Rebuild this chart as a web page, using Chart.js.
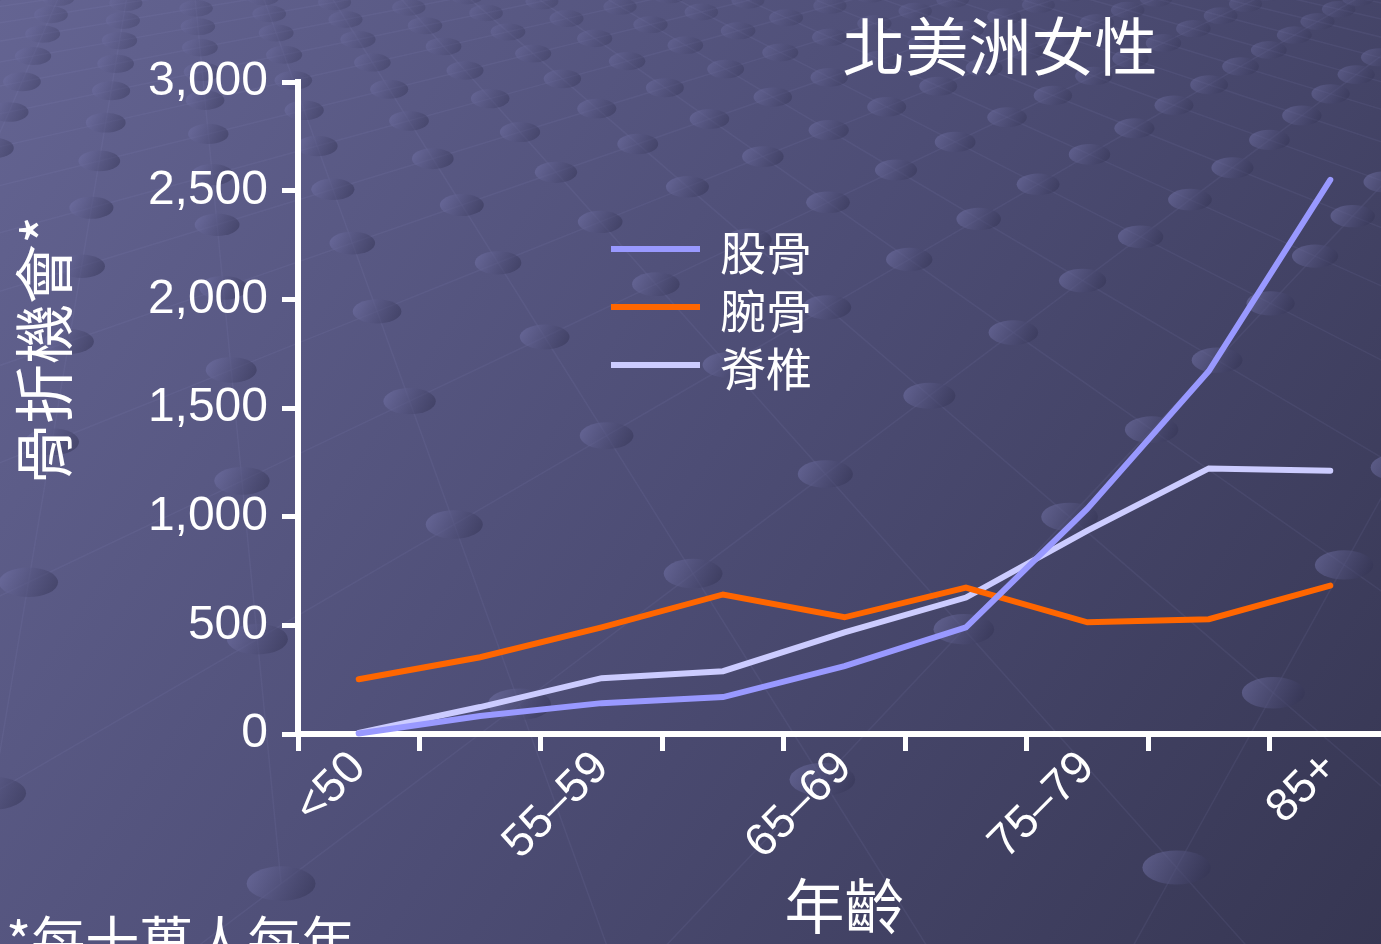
<!DOCTYPE html>
<html>
<head>
<meta charset="utf-8">
<title>北美洲女性 骨折機會</title>
<script src="https://cdn.jsdelivr.net/npm/chart.js@4.4.1/dist/chart.umd.min.js"></script>
<style>
  html, body { margin: 0; padding: 0; overflow: hidden; background: #4a4a72; }
  #wrap { width: 1381px; height: 944px; overflow: hidden; }
  canvas { display: block; }
</style>
</head>
<body>
<div id="wrap"><canvas id="c" width="1391" height="944"></canvas></div>
<script>
// Age groups (every second label is printed on the axis)
const ageGroups = ['<50', '50–54', '55–59', '60–64', '65–69', '70–74', '75–79', '80–84', '85+'];

// Fracture incidence per 100,000 women per year
const hipValues   = [2, 83, 142, 170, 312, 491, 1037, 1670, 2550];
const wristValues = [252, 353, 491, 642, 537, 674, 514, 528, 683];
const spineValues = [5, 124, 257, 289, 468, 628, 936, 1222, 1211];

const seriesNames = ['股骨', '腕骨', '脊椎'];
const yTicks = [0, 500, 1000, 1500, 2000, 2500, 3000];

const chartTitle = '北美洲女性';
const yTitle = '骨折機會*';
const xTitle = '年齡';
const footnote = '*每十萬人每年';

const CJK = '"Noto Sans CJK TC", "Noto Sans CJK SC", sans-serif';
const LATIN = '"Liberation Sans", Arial, sans-serif';

// Slide background: diagonal gradient with a faint perspective lattice of discs
const slideBackground = {
  id: 'slideBackground',
  beforeDraw(chart) {
    const ctx = chart.ctx;
    const W = chart.width, H = chart.height;
    ctx.save();
    const g = ctx.createLinearGradient(0, 0, W, H);
    g.addColorStop(0, '#646492');
    g.addColorStop(0.5, '#4d4d75');
    g.addColorStop(1, '#363652');
    ctx.fillStyle = g;
    ctx.fillRect(0, 0, W, H);

    const ang = 0.6, d = 0.36;
    const ca = Math.cos(ang), sa = Math.sin(ang);
    const proj = (i, j) => {
      const gx = i * d * ca - j * d * sa + 0.1;
      const gz = i * d * sa + j * d * ca + 2.0;
      if (gz < 0.8) return null;
      return { x: 690 + gx * 760 / gz, y: -260 + 1250 / gz, z: gz };
    };
    const N = 30, ZMAX = 6;
    ctx.strokeStyle = 'rgba(150,150,210,0.09)';
    ctx.lineWidth = 1.5;
    for (let i = -N; i <= N; i++) {
      for (let j = -N; j <= N; j++) {
        const p = proj(i, j);
        if (!p || p.z > ZMAX) continue;
        const a = proj(i + 1, j), b = proj(i, j + 1);
        ctx.beginPath();
        if (a && a.z <= ZMAX) { ctx.moveTo(p.x, p.y); ctx.lineTo(a.x, a.y); }
        if (b && b.z <= ZMAX) { ctx.moveTo(p.x, p.y); ctx.lineTo(b.x, b.y); }
        ctx.stroke();
      }
    }
    for (let i = -N; i <= N; i++) {
      for (let j = -N; j <= N; j++) {
        const p = proj(i, j);
        if (!p || p.z > ZMAX) continue;
        if (p.x < -60 || p.x > W + 60 || p.y < -30 || p.y > H + 40) continue;
        const rx = 36 / Math.sqrt(p.z), ry = rx * 0.5;
        const fade = Math.max(0.25, Math.min(1, 1.6 - p.z * 0.22));
        const dg = ctx.createLinearGradient(p.x - rx, p.y - ry, p.x + rx, p.y + ry);
        dg.addColorStop(0, 'rgba(120,120,175,' + (0.55 * fade).toFixed(3) + ')');
        dg.addColorStop(1, 'rgba(45,45,75,' + (0.5 * fade).toFixed(3) + ')');
        ctx.fillStyle = dg;
        ctx.beginPath();
        ctx.ellipse(p.x, p.y, rx, ry, 0, 0, Math.PI * 2);
        ctx.fill();
      }
    }
    ctx.restore();
  }
};

// Titles, footnote and the series key
const slideText = {
  id: 'slideText',
  afterDraw(chart) {
    const ctx = chart.ctx;
    ctx.save();
    ctx.fillStyle = '#ffffff';

    ctx.font = '63px ' + CJK;
    ctx.textAlign = 'center';
    ctx.textBaseline = 'middle';
    ctx.fillText(chartTitle, 1000, 46);

    ctx.font = '60px ' + CJK;
    ctx.textBaseline = 'top';
    ctx.fillText(xTitle, chart.chartArea.left + (chart.chartArea.right - chart.chartArea.left) / 2, 876);

    ctx.save();
    ctx.translate(44, 350);
    ctx.rotate(-Math.PI / 2);
    ctx.textBaseline = 'middle';
    ctx.fillText(yTitle, 0, 0);
    ctx.restore();

    ctx.font = '54px ' + CJK;
    ctx.textAlign = 'left';
    ctx.textBaseline = 'top';
    ctx.fillText(footnote, 6, 914);

    // series key
    ctx.font = '46px ' + CJK;
    ctx.textBaseline = 'middle';
    chart.data.datasets.forEach((ds, k) => {
      const y = 249 + k * 58;
      ctx.strokeStyle = ds.borderColor;
      ctx.lineWidth = 6;
      ctx.lineCap = 'butt';
      ctx.beginPath();
      ctx.moveTo(611, y);
      ctx.lineTo(700, y);
      ctx.stroke();
      ctx.fillText(ds.label, 720, y + 4);
    });
    ctx.restore();
  }
};

const lineStyle = { borderWidth: 6, pointRadius: 0, tension: 0, borderCapStyle: 'round', borderJoinStyle: 'miter', fill: false };

new Chart(document.getElementById('c'), {
  type: 'line',
  data: {
    labels: ageGroups,
    datasets: [
      Object.assign({ label: seriesNames[0], data: hipValues,   borderColor: '#9999ff' }, lineStyle),
      Object.assign({ label: seriesNames[1], data: wristValues, borderColor: '#ff6600' }, lineStyle),
      Object.assign({ label: seriesNames[2], data: spineValues, borderColor: '#ccccff' }, lineStyle)
    ]
  },
  options: {
    responsive: false,
    animation: false,
    devicePixelRatio: 1,
    clip: false,
    layout: { padding: { top: 82, right: 0, left: 0, bottom: 0 } },
    plugins: { legend: { display: false }, title: { display: false }, tooltip: { enabled: false } },
    scales: {
      x: {
        type: 'category',
        offset: true,
        grid: { display: true, offset: true, drawOnChartArea: false, drawTicks: true, tickLength: 17, lineWidth: 5, color: '#ffffff' },
        border: { display: true, color: '#ffffff', width: 6 },
        ticks: {
          autoSkip: false,
          minRotation: 45,
          maxRotation: 45,
          padding: -10,
          color: '#ffffff',
          font: { family: LATIN, size: 46 },
          callback: (v, i) => (i % 2 === 0 ? ageGroups[i] : '')
        },
        afterFit: (s) => { s.height = 210; }
      },
      y: {
        min: 0,
        max: 3000,
        afterBuildTicks: (s) => { s.ticks = yTicks.map(v => ({ value: v })); },
        grid: { display: true, drawOnChartArea: false, drawTicks: true, tickLength: 16, lineWidth: 5, color: '#ffffff' },
        border: { display: true, color: '#ffffff', width: 6 },
        ticks: {
          padding: 14,
          color: '#ffffff',
          font: { family: LATIN, size: 48 },
          callback: (v) => v.toLocaleString('en-US')
        },
        afterFit: (s) => { s.width = 298; }
      }
    }
  },
  plugins: [slideBackground, slideText]
});
</script>
</body>
</html>
